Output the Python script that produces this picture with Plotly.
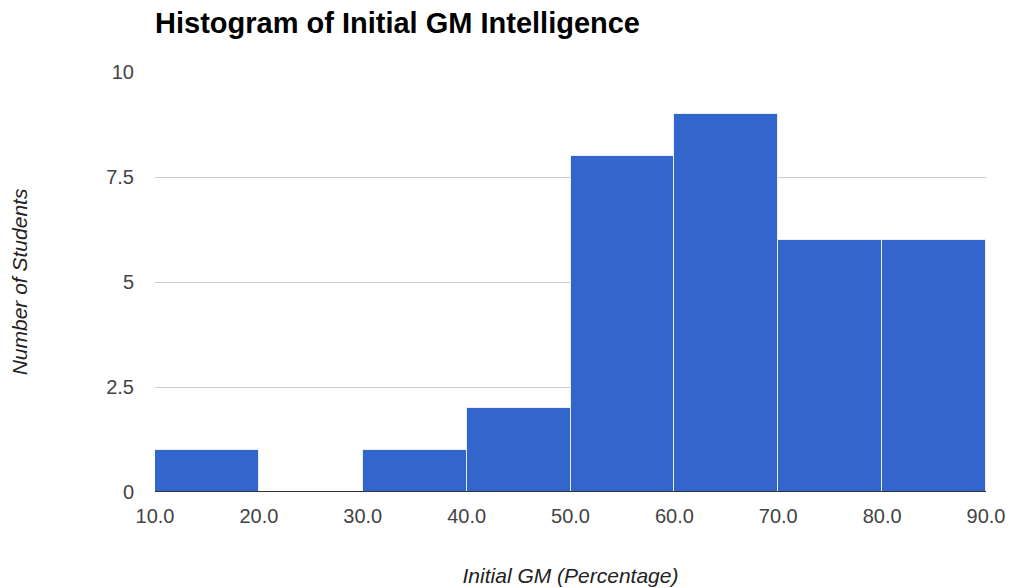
import plotly.graph_objects as go

bin_starts = [10, 20, 30, 40, 50, 60, 70, 80]
counts = [1, 0, 1, 2, 8, 9, 6, 6]
bin_width = 10
x_ticks = [10, 20, 30, 40, 50, 60, 70, 80, 90]
x_tick_labels = ["10.0", "20.0", "30.0", "40.0", "50.0", "60.0", "70.0", "80.0", "90.0"]
y_ticks = [0, 2.5, 5, 7.5, 10]
y_tick_labels = ["0", "2.5", "5", "7.5", "10"]

centers = [s + bin_width / 2 for s in bin_starts]

fig = go.Figure(go.Bar(
    x=centers, y=counts, width=[bin_width] * len(counts),
    marker=dict(color="#3366cc", line=dict(color="#e8eefa", width=1)),
))

font = "Arial, Liberation Sans, sans-serif"
W, H = 1012, 588
fig.update_layout(
    width=W, height=H,
    margin=dict(l=155, r=26, t=72, b=96, autoexpand=False),
    paper_bgcolor="white", plot_bgcolor="white",
    showlegend=False,
    title=dict(text="<b>Histogram of Initial GM Intelligence</b>", x=155/W, xanchor="left",
               y=1 - 23/H, yanchor="middle", font=dict(family=font, size=29, color="#000")),
    xaxis=dict(range=[10, 90], tickvals=x_ticks, ticktext=x_tick_labels, showgrid=False,
               zeroline=False, tickfont=dict(family=font, size=20, color="#444"), ticks="",
               ticklabelstandoff=10,
               title=dict(text="<i>Initial GM (Percentage)</i>", font=dict(family=font, size=21, color="#222"), standoff=42)),
    yaxis=dict(range=[0, 10], tickvals=y_ticks, ticktext=y_tick_labels, showgrid=True,
               gridcolor="#cccccc", zeroline=False, tickfont=dict(family=font, size=20, color="#444"),
               ticks="", ticklabelstandoff=20,
               title=dict(text="<i>Number of Students</i>", font=dict(family=font, size=21, color="#222"), standoff=72)),
    bargap=0,
)
fig.add_shape(type="line", xref="x", yref="y", x0=10, x1=90, y0=0, y1=0,
              line=dict(color="#333333", width=2), layer="above")
fig.write_html("out.html", config={"displayModeBar": False},
               post_script="document.body.style.margin='0';document.body.style.overflow='hidden';")
